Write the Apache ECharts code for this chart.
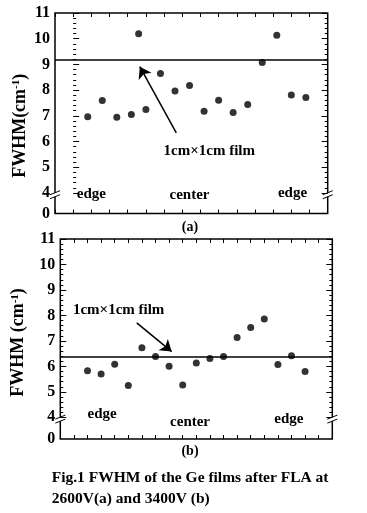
<!DOCTYPE html>
<html><head><meta charset="utf-8">
<script src="https://cdn.jsdelivr.net/npm/echarts@6/dist/echarts.min.js"></script>
<style>html,body{margin:0;padding:0;background:#fff}#c{width:367px;height:513px}</style>
</head><body><div id="c"></div>
<script>
// ---- data ----
const posA = [1, 2, 3, 4, 4.5, 5, 6, 7, 8, 9, 10, 11, 12, 13, 14, 15, 16];
const fwhmA = [6.96, 7.60, 6.94, 7.05, 10.19, 7.25, 8.65, 7.97, 8.18, 7.18, 7.61, 7.13, 7.44, 9.07, 10.13, 7.81, 7.71];
const posB = [2, 3, 4, 5, 6, 7, 8, 9, 10, 11, 12, 13, 14, 15, 16, 17, 18];
const fwhmB = [5.83, 5.70, 6.08, 5.25, 6.73, 6.39, 6.01, 5.27, 6.13, 6.31, 6.39, 7.13, 7.53, 7.86, 6.07, 6.42, 5.80];
const refLineA = 9.18;
const refLineB = 6.38;
const yTickValues = [4, 5, 6, 7, 8, 9, 10, 11];
const regionLabels = ['edge', 'center', 'edge'];
const noteText = '1cm\u00d71cm film';
const panelLabels = ['(a)', '(b)'];
const captionLines = ['Fig.1 FWHM of the Ge films after FLA at', '2600V(a) and 3400V (b)'];

// ---- chart ----
const FONT = '"Liberation Serif","DejaVu Serif","Times New Roman",serif';
const BLACK = '#000';
const chart = echarts.init(document.getElementById('c'));

const minorTicks = [];
for (let v = 40; v < 110; v += 2) if (v % 10) minorTicks.push(v / 10);

function yAxes(gridIndex, min) {
  const base = {type: 'value', gridIndex, min, max: 11, splitLine: {show: false}, axisLine: {show: false}};
  const lbl = {
    customValues: [min].concat(yTickValues),
    formatter: v => (v < 3.9 ? '0' : String(Math.round(v))),
    color: BLACK, fontFamily: FONT, fontWeight: 'bold', fontSize: 16, margin: 5
  };
  return [
    Object.assign({}, base, {position: 'left', axisTick: {inside: true, length: 6, customValues: yTickValues, lineStyle: {color: BLACK, width: 1}}, axisLabel: lbl}),
    Object.assign({}, base, {position: 'left', axisTick: {inside: true, length: 3, customValues: minorTicks, lineStyle: {color: BLACK, width: 1}}, axisLabel: {show: false}}),
    Object.assign({}, base, {position: 'right', axisTick: {inside: true, length: 6, customValues: yTickValues, lineStyle: {color: BLACK, width: 1}}, axisLabel: {show: false}}),
    Object.assign({}, base, {position: 'right', axisTick: {inside: true, length: 3, customValues: minorTicks, lineStyle: {color: BLACK, width: 1}}, axisLabel: {show: false}})
  ];
}
function xAxes(gridIndex, min, max, interval) {
  const base = {type: 'value', gridIndex, min, max, interval, splitLine: {show: false}, axisLine: {show: false},
    axisTick: {inside: true, length: 4, lineStyle: {color: BLACK, width: 1}}, axisLabel: {show: false}};
  return [Object.assign({}, base, {position: 'bottom'}), Object.assign({}, base, {position: 'top'})];
}
const txt = {color: BLACK, fontFamily: FONT, fontWeight: 'bold', fontSize: 15};

function panelSeries(xi, yi, xs, ys, ref, labelCoords, noteCoord, arrow) {
  return [
    {
      type: 'scatter', xAxisIndex: xi, yAxisIndex: yi,
      data: xs.map((x, i) => [x, ys[i]]),
      symbol: 'circle', symbolSize: 7, itemStyle: {color: BLACK}, silent: true,
      markLine: {silent: true, symbol: ['none', 'none'], label: {show: false},
        lineStyle: {color: BLACK, width: 1.5, type: 'solid'}, data: [{yAxis: ref}]},
      markPoint: {silent: true, symbol: 'circle', symbolSize: 0,
        label: Object.assign({show: true, position: 'inside', formatter: '{b}'}, txt),
        data: regionLabels.map((n, i) => ({name: n, coord: labelCoords[i]}))
          .concat([{name: noteText, coord: noteCoord}])}
    },
    {
      type: 'lines', coordinateSystem: 'cartesian2d', xAxisIndex: xi, yAxisIndex: yi, silent: true,
      symbol: ['none', 'arrow'], symbolSize: 11,
      lineStyle: {color: BLACK, width: 1.5, opacity: 1},
      data: [{coords: arrow}]
    }
  ];
}

const option = {
  animation: false,
  backgroundColor: '#fff',
  grid: [
    {left: 55, top: 13, width: 272.7, height: 200.5, show: true, borderColor: BLACK, borderWidth: 1.5, containLabel: false},
    {left: 60.3, top: 239, width: 272, height: 200, show: true, borderColor: BLACK, borderWidth: 1.5, containLabel: false}
  ],
  xAxis: xAxes(0, -1.25, 17.5, 1.25).concat(xAxes(1, 0, 20, 1)),
  yAxis: yAxes(0, 3.2).concat(yAxes(1, 3.15)),
  series: panelSeries(0, 0, posA, fwhmA, refLineA,
      [[1.25, 3.94], [8.0, 3.91], [15.08, 4.0]], [9.36, 5.64], [[7.09, 6.34], [4.58, 8.91]])
    .concat(panelSeries(2, 4, posB, fwhmB, refLineB,
      [[3.07, 4.12], [9.54, 3.83], [16.81, 3.94]], [4.29, 8.21], [[5.62, 7.71], [8.19, 6.58]]))
};
chart.setOption(option);

// ---- decorations: titles, captions, axis breaks ----
const g = [];
function ytitle(x, y, main) {
  g.push({type: 'text', x, y, rotation: Math.PI / 2, silent: true,
    style: {text: main + '(cm{s|-1})', fill: BLACK, font: 'bold 18px ' + FONT, textAlign: 'center', textVerticalAlign: 'middle',
      rich: {s: {fontSize: 11, fontWeight: 'bold', fontFamily: FONT, fill: BLACK, verticalAlign: 'top', padding: [0, 0, 6, 0]}}}});
}
ytitle(20, 125.8, 'FWHM');
ytitle(18.5, 342.5, 'FWHM ');
g.push({type: 'text', x: 190, y: 227, silent: true, style: {text: panelLabels[0], fill: BLACK, font: 'bold 14px ' + FONT, textAlign: 'center', textVerticalAlign: 'middle'}});
g.push({type: 'text', x: 190, y: 451.7, silent: true, style: {text: panelLabels[1], fill: BLACK, font: 'bold 14px ' + FONT, textAlign: 'center', textVerticalAlign: 'middle'}});
g.push({type: 'text', x: 51.7, y: 478.3, silent: true, style: {text: captionLines[0], fill: BLACK, font: 'bold 15.5px ' + FONT, textAlign: 'left', textVerticalAlign: 'middle'}});
g.push({type: 'text', x: 51.7, y: 499.3, silent: true, style: {text: captionLines[1], fill: BLACK, font: 'bold 15.5px ' + FONT, textAlign: 'left', textVerticalAlign: 'middle'}});

function brk(xi, yi, xv, yv) {
  const p = chart.convertToPixel({xAxisIndex: xi, yAxisIndex: yi}, [xv, yv]);
  const cx = p[0], cy = p[1];
  g.push({type: 'group', x: cx, y: cy, silent: true, children: [
    {type: 'polygon', shape: {points: [[-5, 0], [5, -4], [5, 0], [-5, 4]]}, style: {fill: '#fff'}},
    {type: 'line', shape: {x1: -5, y1: 0, x2: 5, y2: -4}, style: {stroke: BLACK, lineWidth: 1}},
    {type: 'line', shape: {x1: -5, y1: 4, x2: 5, y2: 0}, style: {stroke: BLACK, lineWidth: 1}}
  ]});
}
brk(0, 0, -1.25, 3.93);
brk(0, 0, 17.5, 3.93);
brk(2, 4, 0, 3.93);
brk(2, 4, 20, 3.93);
chart.setOption({graphic: g});
</script>
</body></html>
